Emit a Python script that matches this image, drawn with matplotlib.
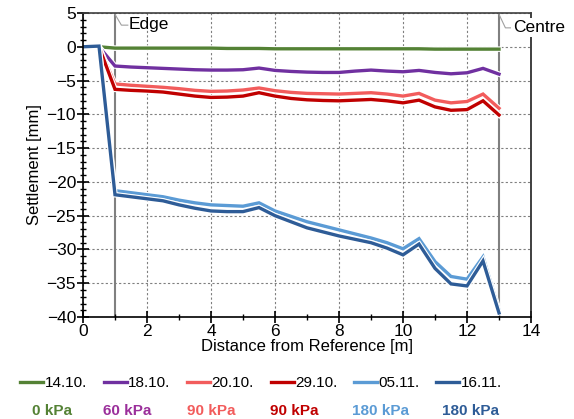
import numpy as np
import matplotlib
matplotlib.use("Agg")
import matplotlib.pyplot as plt
import matplotlib.patheffects as pe
from matplotlib.ticker import MultipleLocator

plt.rcParams['font.family'] = ['Liberation Sans', 'DejaVu Sans']

# distance from reference [m]
dist = [0, 0.5, 1, 1.5, 2, 2.5, 3, 3.5, 4, 4.5, 5, 5.5, 6, 6.5, 7, 7.5,
        8, 8.5, 9, 9.5, 10, 10.5, 11, 11.5, 12, 12.5, 13]

# settlement [mm] per survey date
s_1410 = [0, 0, -0.2, -0.2, -0.2, -0.2, -0.2, -0.2, -0.2, -0.25, -0.25, -0.25, -0.3, -0.3,
          -0.3, -0.3, -0.3, -0.3, -0.3, -0.3, -0.3, -0.3, -0.35, -0.35, -0.35, -0.35, -0.35]
s_1810 = [0, 0, -2.85, -3.0, -3.1, -3.2, -3.3, -3.4, -3.45, -3.45, -3.4, -3.15, -3.5, -3.65,
          -3.75, -3.8, -3.8, -3.6, -3.45, -3.6, -3.7, -3.5, -3.8, -4.0, -3.85, -3.2, -4.05]
s_2010 = [0, 0, -5.5, -5.7, -5.85, -6.0, -6.2, -6.45, -6.6, -6.55, -6.4, -6.1, -6.5, -6.75,
          -6.9, -6.95, -7.0, -6.9, -6.8, -7.0, -7.3, -6.9, -7.9, -8.3, -8.1, -7.0, -9.1]
s_2910 = [0, 0, -6.3, -6.45, -6.55, -6.7, -7.0, -7.3, -7.5, -7.45, -7.3, -6.8, -7.3, -7.65,
          -7.85, -7.95, -8.0, -7.9, -7.8, -8.0, -8.3, -7.9, -8.9, -9.4, -9.3, -8.0, -10.1]
s_0511 = [0, 0.1, -21.3, -21.6, -21.9, -22.2, -22.7, -23.1, -23.4, -23.5, -23.6, -23.1, -24.3, -25.1,
          -25.9, -26.5, -27.1, -27.7, -28.3, -29.0, -29.9, -28.4, -31.8, -34.0, -34.4, -31.1, -39.0]
s_1611 = [0, 0.1, -21.9, -22.2, -22.5, -22.8, -23.4, -23.9, -24.3, -24.4, -24.4, -23.8, -25.0, -25.9,
          -26.8, -27.4, -28.0, -28.5, -29.0, -29.8, -30.8, -29.2, -32.8, -35.1, -35.4, -31.7, -39.4]

dates = ['14.10.', '18.10.', '20.10.', '29.10.', '05.11.', '16.11.']
loads = ['0 kPa', '60 kPa', '90 kPa', '90 kPa', '180 kPa', '180 kPa']
series = [s_1410, s_1810, s_2010, s_2910, s_0511, s_1611]
colors = ['#548235', '#7030A0', '#F25C5C', '#C00000', '#5B9BD5', '#2E5C97']
load_colors = ['#548235', '#9B2F9B', '#F25C5C', '#C00000', '#5B9BD5', '#2E5C97']

fig = plt.figure(figsize=(5.74, 4.19), dpi=100)
ax = fig.add_axes([0.1446, 0.2434, 0.7805, 0.7256])

for ys, c, lab in zip(series, colors, dates):
    ax.plot(dist, ys, color=c, lw=2.4, label=lab, solid_joinstyle='miter',
            path_effects=[pe.Stroke(linewidth=4.0, foreground='white'), pe.Normal()])

# edge / centre markers
for xv in (1, 13):
    ax.axvline(xv, color='#808080', lw=1.5, zorder=1)
ax.plot([1, 1.2, 1.4], [4.8, 3.2, 3.2], color='#A0A0A0', lw=0.8, clip_on=False)
ax.text(1.42, 3.3, 'Edge', fontsize=12.5, va='center', ha='left')
ax.plot([13, 13.2, 13.4], [4.8, 2.8, 2.8], color='#A0A0A0', lw=0.8, clip_on=False, zorder=6)
ax.text(13.45, 2.9, 'Centre', fontsize=12.5, va='center', ha='left', clip_on=False, zorder=6,
        bbox=dict(facecolor='white', edgecolor='none', pad=1.5))

ax.set_xlim(0, 14)
ax.set_ylim(-40, 5)
ax.xaxis.set_major_locator(MultipleLocator(2))
ax.xaxis.set_minor_locator(MultipleLocator(1))
ax.yaxis.set_major_locator(MultipleLocator(5))
ax.yaxis.set_minor_locator(MultipleLocator(1))
ax.tick_params(which='major', direction='inout', length=8, width=1.2, labelsize=12.5, colors='black',
               pad=1)
ax.tick_params(which='minor', direction='inout', length=4, width=1.0)
ax.tick_params(axis='x', which='minor', length=5)
ax.grid(True, which='major', color='#7F7F7F', lw=0.8, linestyle=(0, (2, 2)))
for sp in ax.spines.values():
    sp.set_linewidth(1.2)
ax.spines['top'].set_color('#404040')
ax.spines['right'].set_color('#202020')

ax.set_xlabel('Distance from Reference [m]', fontsize=12, labelpad=0)
ax.set_ylabel('Settlement [mm]', fontsize=12, labelpad=3)

fig.legend(loc='center left', bbox_to_anchor=(14 / 574, 1 - 383 / 419), ncol=6, frameon=False,
           fontsize=11, handlelength=1.5, handletextpad=0.1, columnspacing=1.1, borderaxespad=0)

load_x = [52, 127, 211, 294, 380, 471]
for xp, t, c in zip(load_x, loads, load_colors):
    fig.text(xp / 574, 1 - 411 / 419, t, color=c, fontsize=11, fontweight='bold',
             ha='center', va='center')

fig.savefig('out.png', dpi=100)
